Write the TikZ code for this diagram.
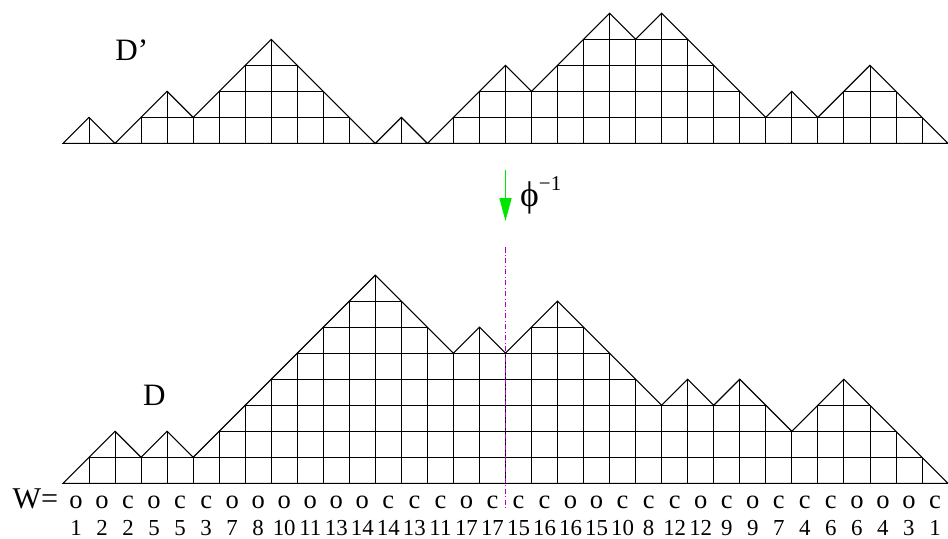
\documentclass[tikz,border=0pt]{standalone}
\usepackage{fontspec}
\setmainfont{Liberation Serif}
\usetikzlibrary{arrows.meta}

\definecolor{cutcol}{RGB}{175,0,200}
\definecolor{mapcol}{RGB}{0,230,0}

\begin{document}
\begin{tikzpicture}[x=0.5cm,y=0.5cm,>=Latex]
\tikzset{
  dyck/.style={line width=0.6pt,line join=miter},
  cell/.style={line width=0.45pt,step=0.5cm},
  word/.style={inner sep=0pt,anchor=base,font=\fontsize{14.5}{16}\selectfont},
  idx/.style={inner sep=0pt,anchor=base,font=\fontsize{12.5}{14}\selectfont},
  dlabel/.style={inner sep=0pt,anchor=base west,font=\fontsize{17}{20}\selectfont},
}
\useasboundingbox (-2.42,-2.10) rectangle (34,18.57);

% upper path D'
\begin{scope}[shift={(0,13.06)}]
\path[save path=\toppath] (0,0) -- (1,1) -- (2,0) -- (4,2) -- (5,1) -- (8,4) -- (12,0) -- (13,1) -- (14,0) -- (17,3) -- (18,2) -- (21,5) -- (22,4) -- (23,5) -- (27,1) -- (28,2) -- (29,1) -- (31,3) -- (34,0) -- cycle;
\begin{scope}
\clip[use path=\toppath];
\draw[cell] (0,0) grid (34,6);
\end{scope}
\draw[dyck,use path=\toppath];
\end{scope}

% lower path D
\path[save path=\lowpath] (0,0) -- (2,2) -- (3,1) -- (4,2) -- (5,1) -- (12,8) -- (15,5) -- (16,6) -- (17,5) -- (19,7) -- (23,3) -- (24,4) -- (25,3) -- (26,4) -- (28,2) -- (30,4) -- (34,0) -- cycle;
\begin{scope}
\clip[use path=\lowpath];
\draw[cell] (0,0) grid (34,9);
\end{scope}
\draw[dyck,use path=\lowpath];

\node[dlabel] (dtop) at (2.0,16.26) {D'};
\node[dlabel] (dlow) at (3.06,2.98) {D};

% the map
\coordinate (mapfrom) at (17,12.04);
\coordinate (mapto) at (17,10.08);
\draw[mapcol,line width=0.6pt,-{Triangle[length=12.5pt,width=6.6pt]}] (mapfrom) -- (mapto);
\node[inner sep=0pt,anchor=base west,font=\fontsize{19.5}{22}\selectfont] (phi) at (17.55,10.62) {ϕ\raisebox{0.45em}{\fontsize{11.5}{13}\selectfont −1}};

\coordinate (cuttop) at (17,9.08);
\coordinate (cutlow) at (17,-1.03);
\draw[cutcol,line width=0.6pt,dash pattern=on 3pt off 1.2pt on 0.6pt off 1.2pt] (cuttop) -- (cutlow);

% the word W
\node[inner sep=0pt,anchor=base west,font=\fontsize{16.5}{19}\selectfont] (wlab) at (-1.95,-0.95) {W=};
\foreach \c [count=\i from 0] in {o,o,c,o,c,c,o,o,o,o,o,o,c,c,c,o,c,c,c,o,o,c,c,c,o,c,o,c,c,c,o,o,o,c}
  \node[word] (w\i) at (\i+0.5,-0.98) {\c};
\foreach \n [count=\i from 0] in {1,2,2,5,5,3,7,8,10,11,13,14,14,13,11,17,17,15,16,16,15,10,8,12,12,9,9,7,4,6,6,4,3,1}
  \node[idx] (n\i) at (\i+0.5,-1.99) {\n};
\end{tikzpicture}
\end{document}
